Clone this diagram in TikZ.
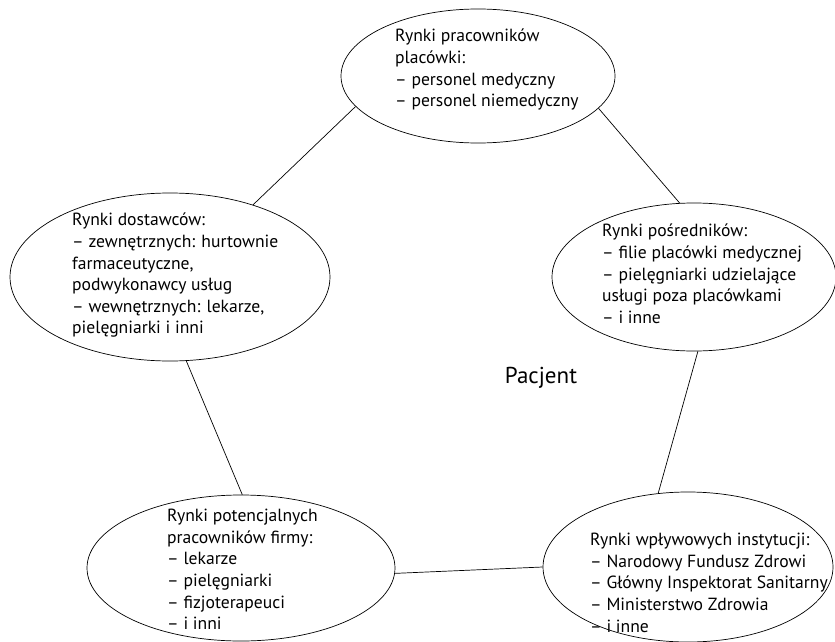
\documentclass[tikz,border=0pt]{standalone}
\usepackage{fontspec}
\setmainfont{PT Sans}
\usetikzlibrary{shapes.geometric}
\begin{document}
\begin{tikzpicture}[x=1pt,y=-1pt,
  mkt/.style={ellipse,draw,line width=0.7pt,inner sep=0pt},
  txt/.style={align=left,anchor=north west,inner sep=0pt,font=\fontsize{17.6}{21.6}\selectfont},
  link/.style={line width=0.7pt}]
\useasboundingbox (0,0) rectangle (835,642);
\node[mkt,minimum width=274,minimum height=134] (e1) at (478,76) {};
\node[mkt,minimum width=320,minimum height=168] (e2) at (170,277) {};
\node[mkt,minimum width=284,minimum height=148] (e3) at (694,277) {};
\node[mkt,minimum width=308,minimum height=146] (e4) at (241,568) {};
\node[mkt,minimum width=290,minimum height=150] (e5) at (688,567) {};
\node[txt] (t1) at (395,29) {Rynki pracowników\\placówki:\\– personel medyczny\\– personel niemedyczny};
\node[txt] (t2) at (72,213) {Rynki dostawców:\\– zewnętrznych: hurtownie\\farmaceutyczne,\\podwykonawcy usług\\– wewnętrznych: lekarze,\\pielęgniarki i inni};
\node[txt] (t3) at (602,224) {Rynki pośredników:\\– filie placówki medycznej\\– pielęgniarki udzielające\\usługi poza placówkami\\– i inne};
\node[txt] (t4) at (167,509) {Rynki potencjalnych\\pracowników firmy:\\– lekarze\\– pielęgniarki\\– fizjoterapeuci\\– i inni};
\node[txt] (t5) at (590,533) {Rynki wpływowych instytucji:\\– Narodowy Fundusz Zdrowi\\– Główny Inspektorat Sanitarny\\– Ministerstwo Zdrowia\\– i inne};
\node[font=\fontsize{23}{27}\selectfont] (p) at (541,378) {Pacjent};
\draw[link] (e1.194.3) -- (e2.41.4);
\draw[link] (e1.345.1) -- (e3.101);
\draw[link] (e2.281.6) -- (e4.89.2);
\draw[link] (e3.273.9) -- (e5.112.7);
\draw[link] (e4.358.9) -- (e5.180.8);
\end{tikzpicture}
\end{document}
